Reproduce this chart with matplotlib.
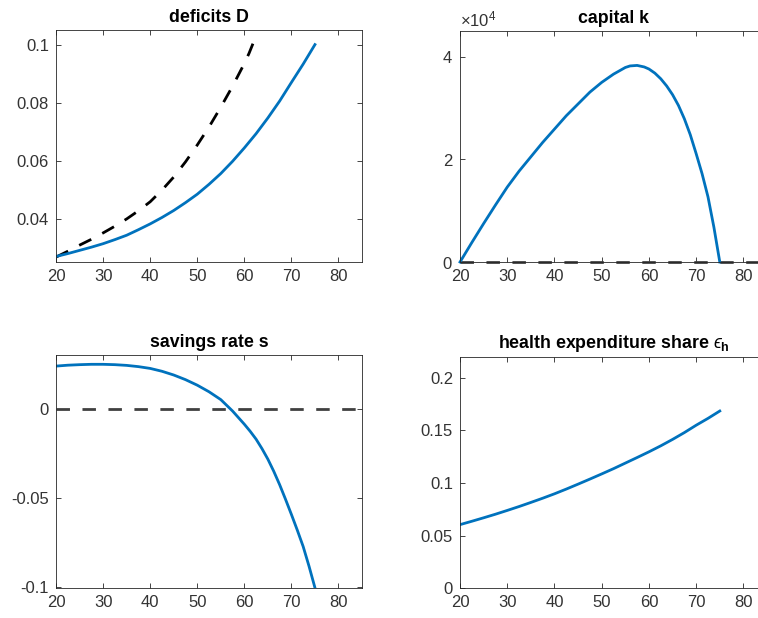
import matplotlib
matplotlib.use("Agg")
import matplotlib.pyplot as plt
from matplotlib.ticker import ScalarFormatter

plt.rcParams['font.family'] = ['Liberation Sans', 'DejaVu Sans']
plt.rcParams['mathtext.fontset'] = 'custom'
plt.rcParams['mathtext.rm'] = 'Liberation Sans'
plt.rcParams['mathtext.it'] = 'Liberation Sans:italic'
plt.rcParams['mathtext.bf'] = 'Liberation Sans:bold'

# age grid (2.5 year steps)
age = [20, 22.5, 25, 27.5, 30, 32.5, 35, 37.5, 40, 42.5, 45, 47.5, 50,
       52.5, 55, 57.5, 60, 62.5, 65, 67.5, 70, 72.5, 75]

# deficits: model path
deficit = [0.0272, 0.0282, 0.0293, 0.0304, 0.0316, 0.0330, 0.0345, 0.0364,
           0.0384, 0.0406, 0.0430, 0.0457, 0.0486, 0.0520, 0.0557, 0.0599,
           0.0645, 0.0694, 0.0748, 0.0806, 0.0870, 0.0933, 0.1000]
# comparison path, stops at 62
age_cmp = [20, 22.5, 25, 27.5, 30, 32.5, 35, 37.5, 40, 42.5, 45, 47.5, 50,
           52.5, 55, 57.5, 60, 61, 62]
deficit_cmp = [0.0270, 0.0290, 0.0311, 0.0331, 0.0353, 0.0376, 0.0401,
               0.0429, 0.0460, 0.0500, 0.0545, 0.0597, 0.0655, 0.0717,
               0.0785, 0.0857, 0.0935, 0.0970, 0.1010]

# capital
age_k = [20, 22.5, 25, 27.5, 30, 32.5, 35, 37.5, 40, 42.5, 45, 47.5, 50,
         52.5, 55, 56, 57.5, 59, 60, 61.25, 62.5, 63.75, 65, 66.25, 67.5,
         68.75, 70, 71.25, 72.5, 73.75, 75]
capital = [0, 3800, 7500, 11100, 14600, 17700, 20500, 23300, 25900, 28500,
           30800, 33100, 35000, 36600, 37900, 38200, 38300, 38000, 37600,
           36800, 35700, 34300, 32600, 30500, 27900, 24800, 21100, 17200,
           12700, 6800, 0]

# savings rate
age_s = [20, 22.5, 25, 27.5, 30, 32.5, 35, 37.5, 40, 42.5, 45, 47.5, 50,
         52.5, 55, 57.5, 60, 61.25, 62.5, 63.75, 65, 66.25, 67.5, 68.75, 70,
         71.25, 72.5, 73.75, 75]
savings = [0.0238, 0.0243, 0.0246, 0.0248, 0.0248, 0.0246, 0.0242, 0.0235,
           0.0225, 0.0209, 0.0188, 0.0162, 0.0131, 0.0094, 0.0050, -0.0014,
           -0.0088, -0.0128, -0.0172, -0.0225, -0.0284, -0.0352, -0.0427,
           -0.0509, -0.0594, -0.0682, -0.0774, -0.0885, -0.1005]

# health expenditure share
health = [0.0605, 0.0637, 0.0670, 0.0704, 0.0740, 0.0777, 0.0816, 0.0856,
          0.0898, 0.0943, 0.0990, 0.1038, 0.1087, 0.1137, 0.1190, 0.1243,
          0.1297, 0.1354, 0.1415, 0.1480, 0.1550, 0.1615, 0.1685]

zero_x = [20, 85]
zero_y = [0, 0]

blue = '#0072BD'
grey = '#404040'
dash = (4.85, 4.5)

fig = plt.figure(figsize=(7.58, 6.18), dpi=100)
ax1 = fig.add_axes([0.0739, 0.576, 0.4037, 0.3754])
ax2 = fig.add_axes([0.6069, 0.576, 0.405, 0.3738])
ax3 = fig.add_axes([0.0739, 0.049, 0.4037, 0.3765])
ax4 = fig.add_axes([0.6069, 0.0481, 0.405, 0.3745])

ax1.plot(age_cmp, deficit_cmp, color='black', lw=2, dashes=dash)
ax1.plot(age, deficit, color=blue, lw=2)
ax1.set_ylim(0.0253, 0.105)
ax1.set_yticks([0.04, 0.06, 0.08, 0.1])
ax1.set_yticklabels(['0.04', '0.06', '0.08', '0.1'])
ax1.set_title('deficits D')

ax2.plot(zero_x, zero_y, color=grey, lw=2, dashes=dash, clip_on=False)
ax2.plot(age_k, capital, color=blue, lw=2, clip_on=False)
ax2.set_ylim(0, 45000)
ax2.set_yticks([0, 20000, 40000])
fmt = ScalarFormatter(useMathText=True)
fmt.set_powerlimits((0, 0))
ax2.yaxis.set_major_formatter(fmt)
ax2.yaxis.get_offset_text().set_fontsize(12)
ax2.yaxis.get_offset_text().set_color('0.25')
ax2.set_title('capital k')

ax3.plot(zero_x, zero_y, color=grey, lw=2, dashes=dash)
ax3.plot(age_s, savings, color=blue, lw=2)
ax3.set_ylim(-0.1005, 0.03)
ax3.set_yticks([-0.1, -0.05, 0])
ax3.set_yticklabels(['-0.1', '-0.05', '0'])
ax3.set_title('savings rate s')

ax4.plot(age, health, color=blue, lw=2)
ax4.set_ylim(0, 0.22)
ax4.set_yticks([0, 0.05, 0.1, 0.15, 0.2])
ax4.set_yticklabels(['0', '0.05', '0.1', '0.15', '0.2'])
ax4.set_title('health expenditure share $\u03f5_{\\mathbf{h}}$')

for ax in (ax1, ax2, ax3, ax4):
    ax.set_xlim(20, 85)
    ax.set_xticks([20, 30, 40, 50, 60, 70, 80])
    ax.tick_params(direction='in', top=True, right=True, length=3.5,
                   width=0.6, color='0.15', labelsize=12, labelcolor='0.2',
                   pad=5)
    for s in ax.spines.values():
        s.set_color('0.15')
        s.set_linewidth(0.6)
    ax.title.set_fontsize(12.8)
    ax.title.set_fontweight('bold')

fig.savefig('out.png', dpi=100)
